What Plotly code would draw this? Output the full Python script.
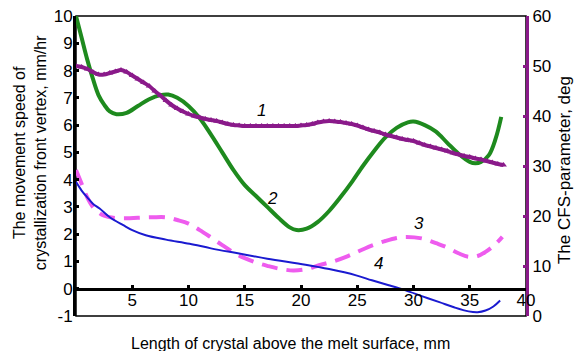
import plotly.graph_objects as go

# Curve 1: CFS-parameter (right axis, deg)
x1 = [i * 0.5 for i in range(77)]
y1 = [50.0, 49.8, 49.4, 48.8, 48.3, 48.3, 48.6, 48.9, 49.2, 48.8,
      48.1, 47.4, 46.7, 46.0, 45.0, 44.1, 43.1, 42.2, 41.5, 40.9,
      40.4, 40.0, 39.7, 39.4, 39.2, 39.0, 38.7, 38.4, 38.2, 38.1,
      38.0, 38.0, 38.0, 38.0, 38.0, 38.0, 38.0, 38.0, 38.0, 38.0,
      38.1, 38.2, 38.4, 38.7, 38.9, 39.0, 38.9, 38.8, 38.6, 38.4,
      38.1, 37.7, 37.3, 37.0, 36.7, 36.3, 36.0, 35.7, 35.4, 35.2,
      35.0, 34.6, 34.2, 33.9, 33.6, 33.3, 33.0, 32.6, 32.3, 32.0,
      31.8, 31.5, 31.3, 31.0, 30.7, 30.4, 30.2]

# Curve 2 (left axis, mm/hr)
x2 = [0, 0.5, 1, 1.5, 2, 2.5, 3, 3.6, 4.5, 5.5, 6.5, 7.5, 8.2, 9, 10, 11, 12, 13, 14, 15,
      16, 17, 18, 19, 19.6, 20.5, 21.5, 22.5, 23.5, 24.5, 25.5, 26.5, 27.5, 28.5, 29.5, 30,
      31, 32, 33, 34, 35, 35.5, 36, 36.7, 37.3, 37.8]
y2 = [10.0, 9.2, 8.4, 7.7, 7.1, 6.75, 6.5, 6.4, 6.45, 6.7, 6.95, 7.1, 7.12, 7.0, 6.7, 6.25, 5.65, 5.0, 4.35, 3.8,
      3.4, 3.0, 2.6, 2.25, 2.15, 2.2, 2.45, 2.85, 3.35, 3.9, 4.5, 5.05, 5.55, 5.9, 6.1, 6.13,
      6.0, 5.76, 5.35, 4.95, 4.65, 4.6, 4.65, 4.9, 5.5, 6.3]

# Curve 3 (left axis, dashed)
x3 = [0, 0.5, 1, 1.5, 2, 2.5, 3.3, 4.5, 5.5, 6.8, 8, 9, 10, 11, 12, 13, 14, 15, 16, 17, 18,
      19.3, 20.5, 21.6, 23, 24, 25, 26.4, 27.5, 28.5, 29.3, 30.8, 32, 32.9, 34, 34.9, 35.7,
      36.4, 37.2, 37.9]
y3 = [4.35, 3.85, 3.35, 3.0, 2.8, 2.68, 2.6, 2.58, 2.6, 2.62, 2.62, 2.52, 2.39, 2.15, 1.88, 1.6, 1.33, 1.12, 0.96, 0.84, 0.74,
      0.67, 0.72, 0.86, 1.02, 1.17, 1.35, 1.6, 1.75, 1.86, 1.9, 1.84, 1.67, 1.53, 1.3, 1.17, 1.2,
      1.35, 1.6, 1.9]

# Curve 4 (left axis)
x4 = [0, 0.5, 1, 1.5, 2.1, 3, 4.2, 5, 6.2, 8, 10.1, 12, 14.5, 17, 20.4, 22.5, 24.9, 26.3,
      27.8, 29.3, 30.8, 32.3, 33.6, 34.9, 35.7, 36.4, 37.1, 37.7]
y4 = [3.92, 3.6, 3.35, 3.12, 2.94, 2.62, 2.33, 2.15, 1.96, 1.8, 1.65, 1.48, 1.29, 1.1, 0.88, 0.72, 0.49, 0.31,
      0.13, -0.06, -0.28, -0.49, -0.68, -0.83, -0.86, -0.8, -0.65, -0.43]

x_ticks = [5, 10, 15, 20, 25, 30, 35, 40]
y_ticks = list(range(-1, 11))
y_tick_text = ["-1", "0", "1", "2", "3", "4", "5", "6", "7", "8", "9", "10"]
y2_ticks = [0, 10, 20, 30, 40, 50, 60]

curve_labels = ["1", "2", "3", "4"]
label_x = [16.5, 17.5, 30.5, 26.9]
label_y = [6.54, 3.3, 2.4, 0.92]

FONT = "Liberation Sans, Arial, sans-serif"

fig = go.Figure()
fig.add_trace(go.Scatter(x=x2, y=y2, mode="lines", line=dict(color="#1e8a1e", width=4, shape="spline"),
                         showlegend=False))
fig.add_trace(go.Scatter(x=x3, y=y3, mode="lines",
                         line=dict(color="#ee5cee", width=4, shape="spline", dash="16px,9px"),
                         showlegend=False))
fig.add_trace(go.Scatter(x=x4, y=y4, mode="lines", line=dict(color="#1a1ad0", width=2, shape="spline"),
                         showlegend=False))
fig.add_trace(go.Scatter(x=x1, y=y1, yaxis="y2", mode="lines+markers",
                         line=dict(color="#8a1a8a", width=4, shape="spline"),
                         marker=dict(symbol="triangle-up", size=6, color="#8a1a8a"),
                         showlegend=False))

for t, xx, yy in zip(curve_labels, label_x, label_y):
    fig.add_annotation(x=xx, y=yy, xref="x", yref="y", text="<i>" + t + "</i>", showarrow=False,
                       font=dict(size=17, color="black", family=FONT))

# frame
fig.add_shape(type="rect", xref="paper", yref="paper", x0=0, x1=1, y0=0, y1=1,
              line=dict(color="black", width=1.5), layer="below")

fig.add_annotation(x=-0.102, y=0.543, xref="paper", yref="paper", textangle=-90,
                   xanchor="center", yanchor="middle",
                   text="The movement speed of<br>crystallization front vertex, mm/hr",
                   showarrow=False, font=dict(size=16, color="black", family=FONT))
fig.add_annotation(x=1.087, y=0.487, xref="paper", yref="paper", textangle=-90,
                   xanchor="center", yanchor="middle",
                   text="The CFS-parameter, deg", showarrow=False,
                   font=dict(size=17, color="black", family=FONT))
fig.add_annotation(x=0.476, y=-0.09, xref="paper", yref="paper",
                   xanchor="center", yanchor="middle",
                   text="Length of crystal above the melt surface, mm", showarrow=False,
                   font=dict(size=16, color="black", family=FONT))

fig.update_layout(
    width=575, height=351,
    margin=dict(l=76, r=49, t=16, b=35),
    paper_bgcolor="white", plot_bgcolor="white",
    font=dict(family=FONT, size=17, color="black"),
    xaxis=dict(range=[0, 40], tickvals=x_ticks, ticktext=[str(v) for v in x_ticks],
               anchor="free", position=1 / 11, showline=True, linecolor="black", linewidth=3,
               ticks="inside", ticklen=3, tickwidth=3, tickcolor="black", showgrid=False,
               zeroline=False, tickfont=dict(size=17), ticklabelstandoff=-5, automargin=False),
    yaxis=dict(range=[-1, 10], tickvals=y_ticks, ticktext=y_tick_text, showline=True,
               linecolor="black", linewidth=3,
               ticks="inside", ticklen=3, tickwidth=3, tickcolor="black", showgrid=False,
               zeroline=False, tickfont=dict(size=17), ticklabelstandoff=-3, automargin=False),
    yaxis2=dict(range=[0, 60], tickvals=y2_ticks, overlaying="y", side="right", showline=True,
                linecolor="#8a1a8a", linewidth=3, ticks="inside", ticklen=3, tickwidth=3,
                tickcolor="#8a1a8a", showgrid=False, zeroline=False, tickfont=dict(size=17),
                ticklabelstandoff=0, automargin=False),
)

fig.write_html("out.html", config={"displayModeBar": False},
               post_script="document.body.style.margin='0';document.body.style.overflow='hidden';")
